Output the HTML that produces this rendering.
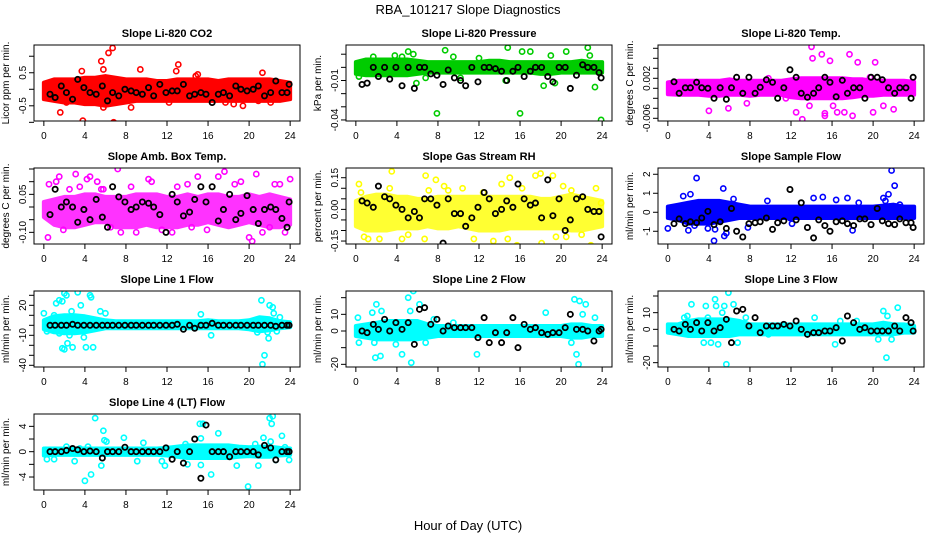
<!DOCTYPE html>
<html><head><meta charset="utf-8"><style>
body{margin:0;background:#fff}
svg{display:block}
text{font-family:"Liberation Sans",Arial,sans-serif;fill:#000}
</style></head><body>
<svg id="c" width="936" height="540" viewBox="0 0 936 540">
<text x="468" y="14" text-anchor="middle" font-size="13">RBA_101217  Slope Diagnostics</text>
<text x="468" y="530" text-anchor="middle" font-size="13">Hour of Day (UTC)</text>
</svg>
<script>
const xTicks=[0,4,8,12,16,20,24];
const blackHours=[0.6,1.1,1.7,2.2,2.8,3.3,3.9,4.5,5.1,5.7,6.2,6.7,7.3,7.9,8.5,9.0,9.6,10.2,10.7,11.3,11.9,12.5,13.0,13.6,14.2,14.7,15.3,15.8,16.4,17.0,17.5,18.1,18.7,19.2,19.8,20.4,20.9,21.5,22.1,22.6,23.2,23.7,23.9];
const bandHours=[0,1,2,3,4,5,6,7,8,9,10,11,12,13,14,15,16,17,18,19,20,21,22,23,24];

const p1Lo=[-0.3,-0.35,-0.4,-0.4,-0.45,-0.45,-0.5,-0.45,-0.4,-0.35,-0.35,-0.35,-0.35,-0.35,-0.35,-0.35,-0.35,-0.35,-0.35,-0.35,-0.35,-0.35,-0.35,-0.35,-0.3];
const p1Hi=[0.2,0.3,0.3,0.3,0.35,0.35,0.4,0.35,0.3,0.3,0.3,0.25,0.25,0.3,0.3,0.3,0.3,0.25,0.3,0.3,0.3,0.3,0.3,0.25,0.2];
const p1Out=[[1.6,-0.7],[3.8,-0.95],[5.6,0.85],[5.8,0.6],[6.3,1.1],[6.7,1.25],[6.8,-1.0],[9.4,0.6],[8.5,-0.55],[12.9,0.55],[13.1,0.75],[18.5,-0.45],[19.4,-0.5],[21.3,0.5],[5.8,-0.55],[3.7,0.55],[2.2,-0.4],[14.8,0.4],[15,0.45],[12.2,-0.4],[17.7,-0.4],[20.9,-0.35],[22.1,-0.4]];
const p1Blk=[-0.15,-0.25,0.1,-0.1,-0.3,0.3,0.05,-0.1,-0.15,0.1,-0.35,-0.1,-0.2,0.0,-0.05,-0.1,-0.15,0.05,-0.2,0.15,-0.1,-0.05,-0.05,0.15,-0.2,-0.15,-0.1,-0.15,-0.4,-0.15,-0.1,-0.2,0.1,0.0,-0.05,0.0,0.1,-0.2,-0.1,0.25,-0.1,-0.1,0.15];

const p2Lo=[-0.005,-0.006,-0.006,-0.006,-0.006,-0.006,-0.005,-0.004,-0.004,-0.004,-0.004,-0.004,-0.004,-0.004,-0.004,-0.004,-0.004,-0.004,-0.005,-0.005,-0.004,-0.004,-0.004,-0.004,-0.004];
const p2Hi=[0.004,0.006,0.006,0.006,0.006,0.006,0.005,0.004,0.004,0.004,0.004,0.004,0.004,0.005,0.005,0.004,0.004,0.004,0.004,0.004,0.004,0.004,0.005,0.004,0.004];
const p2Out=[[0.3,-0.007],[1.7,0.008],[3.8,0.009],[4.5,0.008],[5.1,0.012],[5.6,0.01],[5.9,-0.012],[7.9,-0.035],[8.7,0.013],[9.5,0.008],[12,0.007],[14.8,0.015],[16,-0.035],[16.2,0.012],[17,0.012],[19,0.009],[20.5,0.012],[22.6,0.015],[22.8,0.009],[23.3,-0.015],[23.9,-0.04],[18.3,-0.014],[19.4,-0.012],[6.8,-0.008],[10.2,-0.008],[14.6,-0.01]];
const p2Blk=[-0.013,-0.012,0,-0.007,0,-0.009,0,-0.014,0,-0.016,0,0,-0.005,-0.006,-0.013,-0.002,-0.008,-0.01,-0.014,0,-0.011,0,0,-0.001,-0.003,-0.01,-0.003,0,-0.007,-0.003,0,0,-0.007,-0.011,0,0,-0.016,-0.006,0.002,0,0,-0.004,-0.008];

const p3Lo=[-0.0012,-0.0013,-0.0013,-0.0013,-0.0015,-0.0015,-0.0013,-0.0013,-0.0015,-0.0013,-0.0013,-0.0013,-0.0018,-0.002,-0.002,-0.002,-0.002,-0.002,-0.0018,-0.0015,-0.0015,-0.0013,-0.0013,-0.0013,-0.0013];
const p3Hi=[0.0012,0.0015,0.0015,0.0015,0.0015,0.0015,0.0018,0.0015,0.0015,0.0015,0.0015,0.0015,0.0018,0.002,0.002,0.002,0.002,0.002,0.0018,0.0018,0.0015,0.0015,0.0015,0.0015,0.0013];
const p3Out=[[4,-0.0045],[5.9,-0.004],[7.7,-0.003],[9.8,0.002],[11.5,-0.002],[13.1,-0.0062],[14,0.0083],[14.1,0.006],[15,0.0068],[15.3,-0.0055],[15.8,0.0055],[16.1,-0.0035],[16.5,-0.0048],[17.7,0.0068],[18,-0.0055],[18.5,0.0052],[20,-0.0048],[20.2,0.0052],[21,-0.0035],[22,-0.0042],[19.7,0.0022],[13.8,-0.0035],[12.5,-0.0048],[17.2,-0.0048],[15.3,-0.005]];
const p3Blk=[0.0013,-0.001,0.0001,0.0001,0.0012,0.0001,0,-0.002,0.0001,-0.0022,0.0001,0.0022,-0.001,0.0022,-0.001,0.0002,0.0017,0.0012,-0.002,0.0001,0.0037,0.0022,-0.001,-0.0018,-0.001,0.0001,0.0022,0.0012,-0.0017,0.0016,-0.001,0.0001,0.0001,-0.002,0.0022,0.0022,0.0017,0.0001,-0.001,0.0001,0.0001,-0.002,0.0022];

const p4Lo=[-0.04,-0.07,-0.08,-0.08,-0.07,-0.06,-0.06,-0.08,-0.08,-0.08,-0.07,-0.08,-0.08,-0.08,-0.07,-0.07,-0.06,-0.07,-0.08,-0.07,-0.06,-0.07,-0.08,-0.08,-0.07];
const p4Hi=[0.02,0.03,0.04,0.04,0.05,0.05,0.04,0.04,0.04,0.05,0.05,0.05,0.04,0.04,0.05,0.04,0.05,0.05,0.04,0.04,0.05,0.04,0.05,0.04,0.03];
const p4Out=[[0.4,-0.12],[0.5,0.09],[1.2,0.1],[1.5,0.12],[1.9,-0.09],[3.1,0.13],[4.2,0.11],[4.5,0.12],[5.2,0.1],[5.6,0.07],[5.8,0.07],[7.2,0.15],[7.5,-0.1],[8.5,0.08],[9.0,-0.1],[10.2,0.11],[10.5,0.1],[11.5,-0.09],[13.0,0.08],[14.0,0.09],[14.4,-0.08],[15.0,0.12],[15.9,-0.09],[17.0,0.12],[17.6,0.14],[18.6,0.09],[19.2,0.1],[20.0,-0.12],[20.3,-0.135],[20.7,0.13],[21.3,-0.1],[22.0,-0.08],[22.5,0.09],[23.0,0.09],[23.5,-0.1],[24.0,0.11],[6.5,-0.08],[2.5,0.07],[3.5,0.08],[12.5,-0.1]];
const p4Blk=[-0.03,0.07,0.0,0.02,0.0,-0.06,-0.01,-0.05,0.03,-0.04,-0.08,0.08,0.04,0.02,-0.01,0.0,0.02,0.015,0.0,-0.03,-0.1,0.05,0.02,-0.035,-0.02,0.03,0.08,0.02,0.08,-0.055,-0.01,0.05,-0.05,-0.025,0.045,-0.01,-0.065,-0.01,0.0,-0.01,-0.045,-0.08,0.02];

const p5Lo=[-0.08,-0.1,-0.1,-0.1,-0.09,-0.09,-0.09,-0.08,-0.09,-0.09,-0.08,-0.09,-0.1,-0.1,-0.1,-0.09,-0.09,-0.09,-0.09,-0.09,-0.09,-0.1,-0.1,-0.09,-0.08];
const p5Hi=[0.04,0.06,0.07,0.07,0.06,0.06,0.05,0.05,0.06,0.06,0.06,0.06,0.06,0.06,0.06,0.06,0.06,0.06,0.05,0.05,0.06,0.07,0.06,0.05,0.04];
const p5Out=[[0.3,0.12],[0.5,0.08],[0.8,-0.13],[1.2,-0.14],[2.3,-0.14],[3.5,0.18],[4.5,-0.14],[5.1,-0.12],[6.7,-0.14],[6.8,0.16],[7.1,0.09],[7.8,0.14],[8.6,0.11],[10.4,0.1],[11.5,-0.14],[12.4,0.08],[13.4,-0.15],[14.2,0.12],[14.8,-0.14],[15,0.15],[15.7,-0.17],[17.5,0.16],[18,0.17],[18.1,-0.16],[19.2,0.16],[19.5,-0.13],[20.2,0.11],[20.5,-0.13],[21.0,0.09],[22.0,-0.12],[22.9,-0.17],[23.4,0.1],[23.9,0.03],[9,0.09],[3.3,0.1],[16.2,0.1]];
const p5Blk=[0.04,0.03,0.01,0.11,0.06,0.05,0.02,0.0,-0.04,-0.01,-0.04,0.05,0.05,0.02,-0.16,0.05,-0.02,-0.02,-0.08,-0.04,0.01,0.08,0.05,-0.02,0.0,0.04,0.01,0.12,0.05,0.02,0.03,-0.04,0.14,-0.03,0.05,-0.1,-0.05,0.05,0.06,0.0,-0.01,-0.01,-0.13];

const p6Lo=[-0.3,-0.4,-0.6,-0.6,-0.6,-0.5,-0.4,-0.3,-0.3,-0.3,-0.3,-0.3,-0.3,-0.3,-0.3,-0.3,-0.3,-0.3,-0.3,-0.3,-0.3,-0.3,-0.3,-0.3,-0.3];
const p6Hi=[0.3,0.4,0.5,0.6,0.6,0.6,0.5,0.4,0.3,0.3,0.3,0.3,0.3,0.3,0.3,0.3,0.3,0.3,0.3,0.3,0.3,0.35,0.4,0.3,0.3];
const p6Out=[[0,-0.85],[1.5,0.85],[2,-0.95],[2.2,0.95],[2.8,1.8],[3.9,-0.85],[4.5,-1.5],[5.4,1.25],[5.5,-1.25],[5.7,-1.1],[6.4,0.7],[7.8,-0.8],[9.7,0.6],[11.9,-0.3],[12.1,-0.6],[14.2,0.75],[15.1,0.8],[16.4,0.65],[17.5,0.75],[18,-0.95],[18.6,0.5],[21,0.75],[21.2,0.6],[21.5,0.95],[21.8,2.2],[22.1,1.4],[22.6,0.4],[2.6,-0.7],[4.6,-0.9]];
const p6Blk=[-0.6,-0.35,-0.6,-0.5,-0.55,-0.3,0.05,-0.65,-0.5,-0.85,0.2,-1.0,-1.3,-0.6,-0.55,-0.5,-0.3,-0.9,-0.55,-0.45,1.2,-0.4,0.5,-0.8,-1.35,-0.4,-0.7,-1.0,-0.5,-0.45,-0.6,-0.7,-0.35,-0.35,-0.65,0.2,-0.45,-0.6,-0.65,-0.35,-0.55,-0.55,-0.8];

const p7Lo=[-4,-7,-8,-8,-7,-5,-3,-3,-3,-3,-3,-3,-3,-3,-3,-3,-3,-3,-3,-3,-4,-6,-5,-3,-2];
const p7Hi=[5,9,10,10,9,7,5,4,4,4,4,4,4,4,4,4,5,4,4,4,5,8,7,4,3];
const p7Out=[[0,12],[0.3,-6],[1.2,22],[1.5,25],[1.8,24],[2,32],[2.2,30],[1.3,-3],[1.5,-8],[1.8,-23],[2,-24],[2.3,-18],[2.7,14],[2.8,-22],[3.3,33],[3.6,20],[3.9,-12],[4.1,-22],[4.5,30],[4.8,-22],[4.6,28],[5.5,14],[6,12],[15.3,11],[16.3,-10],[20.8,-7],[21.2,25],[21.3,-39],[21.5,-30],[21.8,-7],[22,20],[22.3,18],[21.9,-13],[22.4,12],[22.7,-6],[23,8],[1.0,10],[3.0,8],[2.5,-10]];
const p7Blk=[0,0,0,0,1,0,0,0,0,0,0,0,0,0,0,0,0,0,0,0,0,0,1,-4,0,-3,0,0,2,0,0,0,0,0,0,0,0,0,0,-1,0,0,0];

const p8Lo=[-3,-4,-5,-5,-5,-5,-5,-4,-3,-3,-3,-3,-3,-3,-3,-3,-3,-3,-3,-3,-3,-4,-4,-3,-3];
const p8Hi=[3,4,5,6,6,6,6,4,3,3,3,3,3,3,3,3,3,3,3,3,3,4,4,3,3];
const p8Out=[[0.2,8],[0.3,-7],[1.6,11],[1.8,-7],[1.9,-16],[2,16],[2.4,-15],[2.5,12],[4.5,-14],[5.1,20],[5.3,12],[5.4,-19],[5.6,24],[6.2,16],[6.8,-7],[7.6,7],[11.8,-14],[18.5,11],[21,-7],[21.3,19],[21.5,-14],[21.7,-20],[21.8,18],[22.1,10],[22.4,16],[23.3,8],[3.9,-8],[9.5,5]];
const p8Blk=[0,-1,4,1,7,0,5,1,5,-8,13,14,4,7,0,3,2,2,2,2,-4,8,-7,-1,-7,-1,8,-10,4,1,2,-1,-2,-1,-1,2,10,1,1,0,-6,0,1];

const p9Lo=[-2,-3,-4,-4,-4,-4,-4,-3,-3,-3,-3,-3,-3,-3,-3,-3,-3,-3,-3,-3,-3,-3,-3,-2,-2];
const p9Hi=[3,3,5,6,6,6,6,5,3,3,3,3,3,3,3,3,3,3,3,3,3,4,3,3,2];
const p9Out=[[1.6,7],[1.9,8],[2.3,15],[3.5,-8],[3.7,14],[4.2,-8],[4.6,18],[4.7,14],[4.9,-9],[5.3,10],[5.5,14],[5.7,-21],[5.9,22],[6.4,15],[6.8,-8],[7.6,7],[9.8,-3],[14.3,7],[16.3,-9],[16.8,5],[18.4,5],[20.5,-6],[21,11],[21.3,-17],[21.4,8],[21.8,-6],[22.4,13],[3.9,7]];
const p9Blk=[0,-1,3,0,4,-1,4,-1,1,6,-8,11,12,2,7,-2,2,2,2,3,2,5,0,-3,-2,-2,-1,-1,1,-7,8,4,0,1,-1,-1,-1,-1,2,-1,7,4,-1];

const p10Lo=[-0.6,-0.5,-0.5,-0.5,-0.5,-0.5,-0.5,-0.5,-0.5,-0.5,-0.5,-0.5,-0.6,-0.8,-1,-1,-1,-1,-1,-0.8,-0.7,-0.8,-0.8,-0.6,-0.5];
const p10Hi=[0.5,0.5,0.5,0.5,0.5,0.5,0.5,0.5,0.5,0.5,0.5,0.5,0.6,0.8,1,1,1,1,1,0.8,0.7,0.8,0.8,0.6,0.5];
const p10Out=[[0.2,0.3],[0.3,-1.2],[1,-1.2],[2.2,0.8],[3,-1.5],[3.5,0.5],[4,-4.6],[4.3,0.8],[4.6,-3.6],[5,5.3],[5.6,-2.2],[5.8,3.3],[5.9,1.8],[6.1,1.6],[7.8,2.2],[9.1,-1.5],[9.7,1.4],[11.5,-1.5],[11.8,-2.2],[13.8,1.2],[14,-2],[15.2,4.4],[15.3,2.1],[15.3,-2.1],[15.5,4.4],[16.3,-3.6],[17,2.9],[18.8,-2.2],[19.9,-5.5],[20.6,1.2],[20.9,-2.2],[21.4,2.2],[22,5.3],[22.3,5.6],[22.2,4.4],[22.1,1.6],[22.6,-1.3],[23.2,2.5],[23.5,0.7],[23.9,-1.3],[14.5,0.8]];
const p10Blk=[0,0,0,0.2,0.5,0.3,0,0.1,0,-1,0,0,0,0.7,0,0,0,0,0,0,0.6,-1.2,0,-1.8,0,2,-4.2,4.2,0,0,0,-0.8,0,0,0,0,-0.5,1,0.6,-1.3,0,0,0];

const panels=[
 {t:"Slope Li-820 CO2",yl:"Licor ppm per min.",c:"#ff0000",col:0,row:0,y0:-0.96,y1:1.34,ticks:[-1,-0.5,0,0.5,1],labs:["","-0.5","","0.5",""],lo:p1Lo,hi:p1Hi,out:p1Out,blk:p1Blk},
 {t:"Slope Li-820 Pressure",yl:"kPa per min.",c:"#00cc00",col:1,row:0,y0:-0.0408,y1:0.017,ticks:[-0.04,-0.03,-0.02,-0.01,0,0.01],labs:["-0.04","","","-0.01","",""],lo:p2Lo,hi:p2Hi,out:p2Out,blk:p2Blk},
 {t:"Slope Li-820 Temp.",yl:"degrees C per min.",c:"#ff00ff",col:2,row:0,y0:-0.00654,y1:0.00866,ticks:[-0.006,-0.004,-0.002,0,0.002,0.004,0.006,0.008],labs:["-0.006","","","","0.002","","",""],lo:p3Lo,hi:p3Hi,out:p3Out,blk:p3Blk},
 {t:"Slope Amb. Box Temp.",yl:"degrees C per min.",c:"#ff00ff",col:0,row:1,y0:-0.146,y1:0.154,ticks:[-0.1,-0.05,0,0.05,0.1,0.15],labs:["-0.10","","","0.05","",""],lo:p4Lo,hi:p4Hi,out:p4Out,blk:p4Blk},
 {t:"Slope Gas Stream RH",yl:"percent per min.",c:"#ffff00",col:1,row:1,y0:-0.164,y1:0.196,ticks:[-0.15,-0.1,-0.05,0,0.05,0.1,0.15],labs:["-0.15","","","0.00","","","0.15"],lo:p5Lo,hi:p5Hi,out:p5Out,blk:p5Blk},
 {t:"Slope Sample Flow",yl:"ml/min per min.",c:"#0000ff",col:2,row:1,y0:-1.67,y1:2.33,ticks:[-1,0,1,2],labs:["-1","0","1","2"],lo:p6Lo,hi:p6Hi,out:p6Out,blk:p6Blk},
 {t:"Slope Line 1 Flow",yl:"ml/min per min.",c:"#00ffff",col:0,row:2,y0:-41.7,y1:34.3,ticks:[-40,-30,-20,-10,0,10,20,30],labs:["-40","","","-10","","","20",""],lo:p7Lo,hi:p7Hi,out:p7Out,blk:p7Blk},
 {t:"Slope Line 2 Flow",yl:"ml/min per min.",c:"#00ffff",col:1,row:2,y0:-21.6,y1:24,ticks:[-20,-10,0,10,20],labs:["-20","","0","10",""],lo:p8Lo,hi:p8Hi,out:p8Out,blk:p8Blk},
 {t:"Slope Line 3 Flow",yl:"ml/min per min.",c:"#00ffff",col:2,row:2,y0:-22.6,y1:23,ticks:[-20,-10,0,10,20],labs:["-20","","0","10",""],lo:p9Lo,hi:p9Hi,out:p9Out,blk:p9Blk},
 {t:"Slope Line 4 (LT) Flow",yl:"ml/min per min.",c:"#00ffff",col:0,row:3,y0:-6.05,y1:5.95,ticks:[-4,-2,0,2,4],labs:["-4","","0","","4"],lo:p10Lo,hi:p10Hi,out:p10Out,blk:p10Blk}
];
const colX=[34,346,658], rowY=[45,168,291,414], W=266, H=76;
const svg=document.getElementById('c');
const NS="http://www.w3.org/2000/svg";
function mk(tag,attrs,parent){const e=document.createElementNS(NS,tag);for(const k in attrs)e.setAttribute(k,attrs[k]);parent.appendChild(e);return e;}
const defs=mk('defs',{},svg);
panels.forEach((p,i)=>{
  const bx=colX[p.col], by=rowY[p.row];
  const xs=h=>bx+(h+0.96)/25.92*W;
  const ys=v=>by+(p.y1-v)/(p.y1-p.y0)*H;
  const cp=mk('clipPath',{id:'clip'+i},defs);
  mk('rect',{x:bx,y:by,width:W,height:H},cp);
  const g=mk('g',{},svg);
  
  
  const tt=mk('text',{x:bx+W/2,y:by-8,'text-anchor':'middle','font-size':'11','font-weight':'bold'},g);tt.textContent=p.t;
  
  
  const yt=mk('text',{transform:`translate(${bx-25},${by+H/2}) rotate(-90)`,'text-anchor':'middle','font-size':'10'},g);yt.textContent=p.yl;
  
  
  const cg=mk('g',{'clip-path':'url(#clip'+i+')'},g);
  
  
  let pts=[];
  bandHours.forEach((h,k)=>pts.push(xs(h)+','+ys(p.hi[k])));
  for(let k=bandHours.length-1;k>=0;k--)pts.push(xs(bandHours[k])+','+ys(p.lo[k]));
  const band=mk('polygon',{points:pts.join(' '),fill:p.c,stroke:p.c,'stroke-width':4,'stroke-linejoin':'round',opacity:(i==3||i==4)?0.8:1},cg);
  
  
  p.out.forEach(o=>{const c=mk('circle',{cx:xs(o[0]),cy:ys(o[1]),r:2.6,fill:'none',stroke:p.c,'stroke-width':1.6},cg);
    
    });
  const n=Math.min(blackHours.length,p.blk.length);
  for(let k=0;k<n;k++){const c=mk('circle',{cx:xs(blackHours[k]),cy:ys(p.blk[k]),r:2.6,fill:'none',stroke:'#000','stroke-width':1.8},cg);
    
    }
  const fr=mk('rect',{x:bx,y:by,width:W,height:H,fill:'none',stroke:'#000','stroke-width':1},g);
  
  
  xTicks.forEach(h=>{mk('line',{x1:xs(h),x2:xs(h),y1:by+H,y2:by+H+5,stroke:'#000'},g);
    const l=mk('text',{x:xs(h),y:by+H+18,'text-anchor':'middle','font-size':'10'},g);l.textContent=h;
    
    });
  p.ticks.forEach((v,k)=>{mk('line',{x1:bx-5,x2:bx,y1:ys(v),y2:ys(v),stroke:'#000'},g);
    if(p.labs[k]){const l=mk('text',{transform:`translate(${bx-8},${ys(v)}) rotate(-90)`,'text-anchor':'middle','font-size':'10'},g);l.textContent=p.labs[k];
    
    }});
});
</script>
</body></html>
